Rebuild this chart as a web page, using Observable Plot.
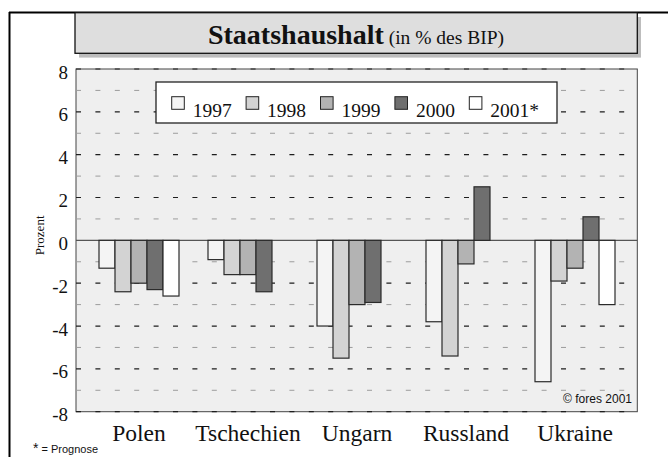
<!DOCTYPE html>
<html><head><meta charset="utf-8">
<script src="https://cdn.jsdelivr.net/npm/d3@7"></script>
<script src="https://cdn.jsdelivr.net/npm/@observablehq/plot@0.6"></script>
<style>
body{margin:0;background:#fff}
#chart{position:relative;width:668px;height:457px}
</style>
</head><body><div id="chart"></div>
<script>
const countries = ["Polen","Tschechien","Ungarn","Russland","Ukraine"];
const years = ["1997","1998","1999","2000","2001*"];
const v1997 = [-1.3,-0.9,-4.0,-3.8,-6.6];
const v1998 = [-2.4,-1.6,-5.5,-5.4,-1.9];
const v1999 = [-2.0,-1.6,-3.0,-1.1,-1.3];
const v2000 = [-2.3,-2.4,-2.9,2.5,1.1];
const v2001 = [-2.6,null,null,null,-3.0];
const yTicks = [-8,-6,-4,-2,0,2,4,6,8];
const gridValues = [-8,-7,-6,-5,-4,-3,-2,-1,1,2,3,4,5,6,7,8];
const yearColors = ["#f4f4f4","#d3d3d3","#b3b3b3","#6f6f6f","#ffffff"];
const titleMain = "Staatshaushalt";
const titleSub = "(in % des BIP)";
const yLabel = "Prozent";
const footnote = "* = Prognose";
const copyright = "\u00A9 fores 2001";

const series = [v1997,v1998,v1999,v2000,v2001];
const data = [];
countries.forEach((c,i)=>years.forEach((yr,j)=>{
  const v = series[j][i];
  if (v != null) data.push({country:c, year:yr, value:v});
}));

const serif = "'Liberation Serif','Times New Roman',Times,serif";
const sans = "'Liberation Sans',Arial,sans-serif";

const chart = Plot.plot({
  width:668, height:457,
  marginTop:69, marginBottom:45.3, marginLeft:76, marginRight:30.7,
  style:{fontFamily:serif, background:"transparent", overflow:"visible", color:"#111"},
  fx:{domain:countries, paddingInner:0.257, paddingOuter:0.197, label:null},
  x:{domain:years, paddingInner:0.03, paddingOuter:0, axis:null},
  y:{domain:[-8,8], axis:null},
  color:{domain:years, range:yearColors},
  marks:[
    Plot.axisFx({anchor:"bottom", tickSize:0, tickPadding:12, fontSize:23.5, label:null}),
    Plot.barY(data,{fx:"country", x:"year", y:"value", fill:"year", stroke:"#2a2a2a", strokeWidth:1.2})
  ]
});
document.getElementById("chart").appendChild(chart);

const svg = d3.select(chart);
const ys = chart.scale("y");
const Y = v => ys.apply(v);
const L = 76, R = 637.3, T = Y(8), B = Y(-8);

// background layer
const bg = svg.insert("g", "g");
bg.append("rect").attr("x",L).attr("y",T).attr("width",R-L).attr("height",B-T).attr("fill","#efefef");
bg.append("rect").attr("x",L).attr("y",T).attr("width",R-L).attr("height",B-T)
  .attr("fill","none").attr("stroke","#444").attr("stroke-width",1);
gridValues.forEach(v=>{
  bg.append("line").attr("x1",L).attr("x2",R).attr("y1",Y(v)).attr("y2",Y(v))
    .attr("stroke", v%2===0 ? "#1e1e1e" : "#9c9c9c")
    .attr("stroke-width", v%2===0 ? 1.2 : 1)
    .attr("stroke-dasharray","5,14.4");
});
bg.append("line").attr("x1",L).attr("x2",R).attr("y1",Y(0)).attr("y2",Y(0))
  .attr("stroke","#555").attr("stroke-width",1.3);

// y tick labels
const fg = svg.append("g").attr("text-anchor","start");
yTicks.forEach(v=>{
  fg.append("text").attr("x",68).attr("y",Y(v)+3).attr("text-anchor","end")
    .attr("dominant-baseline","central").attr("font-family",serif).attr("font-size",19)
    .attr("fill","#111").text(v);
});
fg.append("text").attr("transform",`translate(39,${Y(0)-5}) rotate(-90)`)
  .attr("text-anchor","middle").attr("dominant-baseline","central")
  .attr("font-family",serif).attr("font-size",13).attr("fill","#111").text(yLabel);

// outer frame
fg.append("line").attr("x1",9).attr("x2",668).attr("y1",12.5).attr("y2",12.5).attr("stroke","#000").attr("stroke-width",2);
fg.append("line").attr("x1",9.5).attr("x2",9.5).attr("y1",12).attr("y2",457).attr("stroke","#000").attr("stroke-width",2);

// title box
fg.append("rect").attr("x",79).attr("y",17).attr("width",562).attr("height",40.6).attr("fill","#bdbdbd");
fg.append("rect").attr("x",75).attr("y",12.7).attr("width",562.3).attr("height",40.6)
  .attr("fill","#dedede").attr("stroke","#111").attr("stroke-width",1.3);
const tt = fg.append("text").attr("x",356).attr("y",44).attr("text-anchor","middle")
  .attr("font-family",serif).attr("fill","#111");
tt.append("tspan").attr("font-size",28).attr("font-weight","bold").text(titleMain);
tt.append("tspan").attr("font-size",19.5).text(" " + titleSub);

// legend
fg.append("rect").attr("x",156).attr("y",82).attr("width",401).attr("height",41)
  .attr("fill","#fff").attr("stroke","#222").attr("stroke-width",1.3);
years.forEach((yr,i)=>{
  const x0 = 171.7 + i*74.4;
  fg.append("rect").attr("x",x0).attr("y",96.7).attr("width",12.6).attr("height",12.6)
    .attr("fill",yearColors[i]).attr("stroke","#222").attr("stroke-width",1);
  fg.append("text").attr("x",x0+21).attr("y",116.5).attr("text-anchor","start")
    .attr("font-family",serif).attr("font-size",19.5).attr("fill","#111").text(yr);
});

// footnote and copyright
const fn = fg.append("text").attr("x",33).attr("y",453).attr("text-anchor","start")
  .attr("font-family",sans).attr("fill","#111");
fn.append("tspan").attr("font-size",14).text("*");
fn.append("tspan").attr("font-size",11).text(footnote.slice(1));
fg.append("text").attr("x",632).attr("y",403).attr("text-anchor","end").attr("font-family",sans)
  .attr("font-size",12).attr("fill","#111").text(copyright);
</script>
</body></html>
